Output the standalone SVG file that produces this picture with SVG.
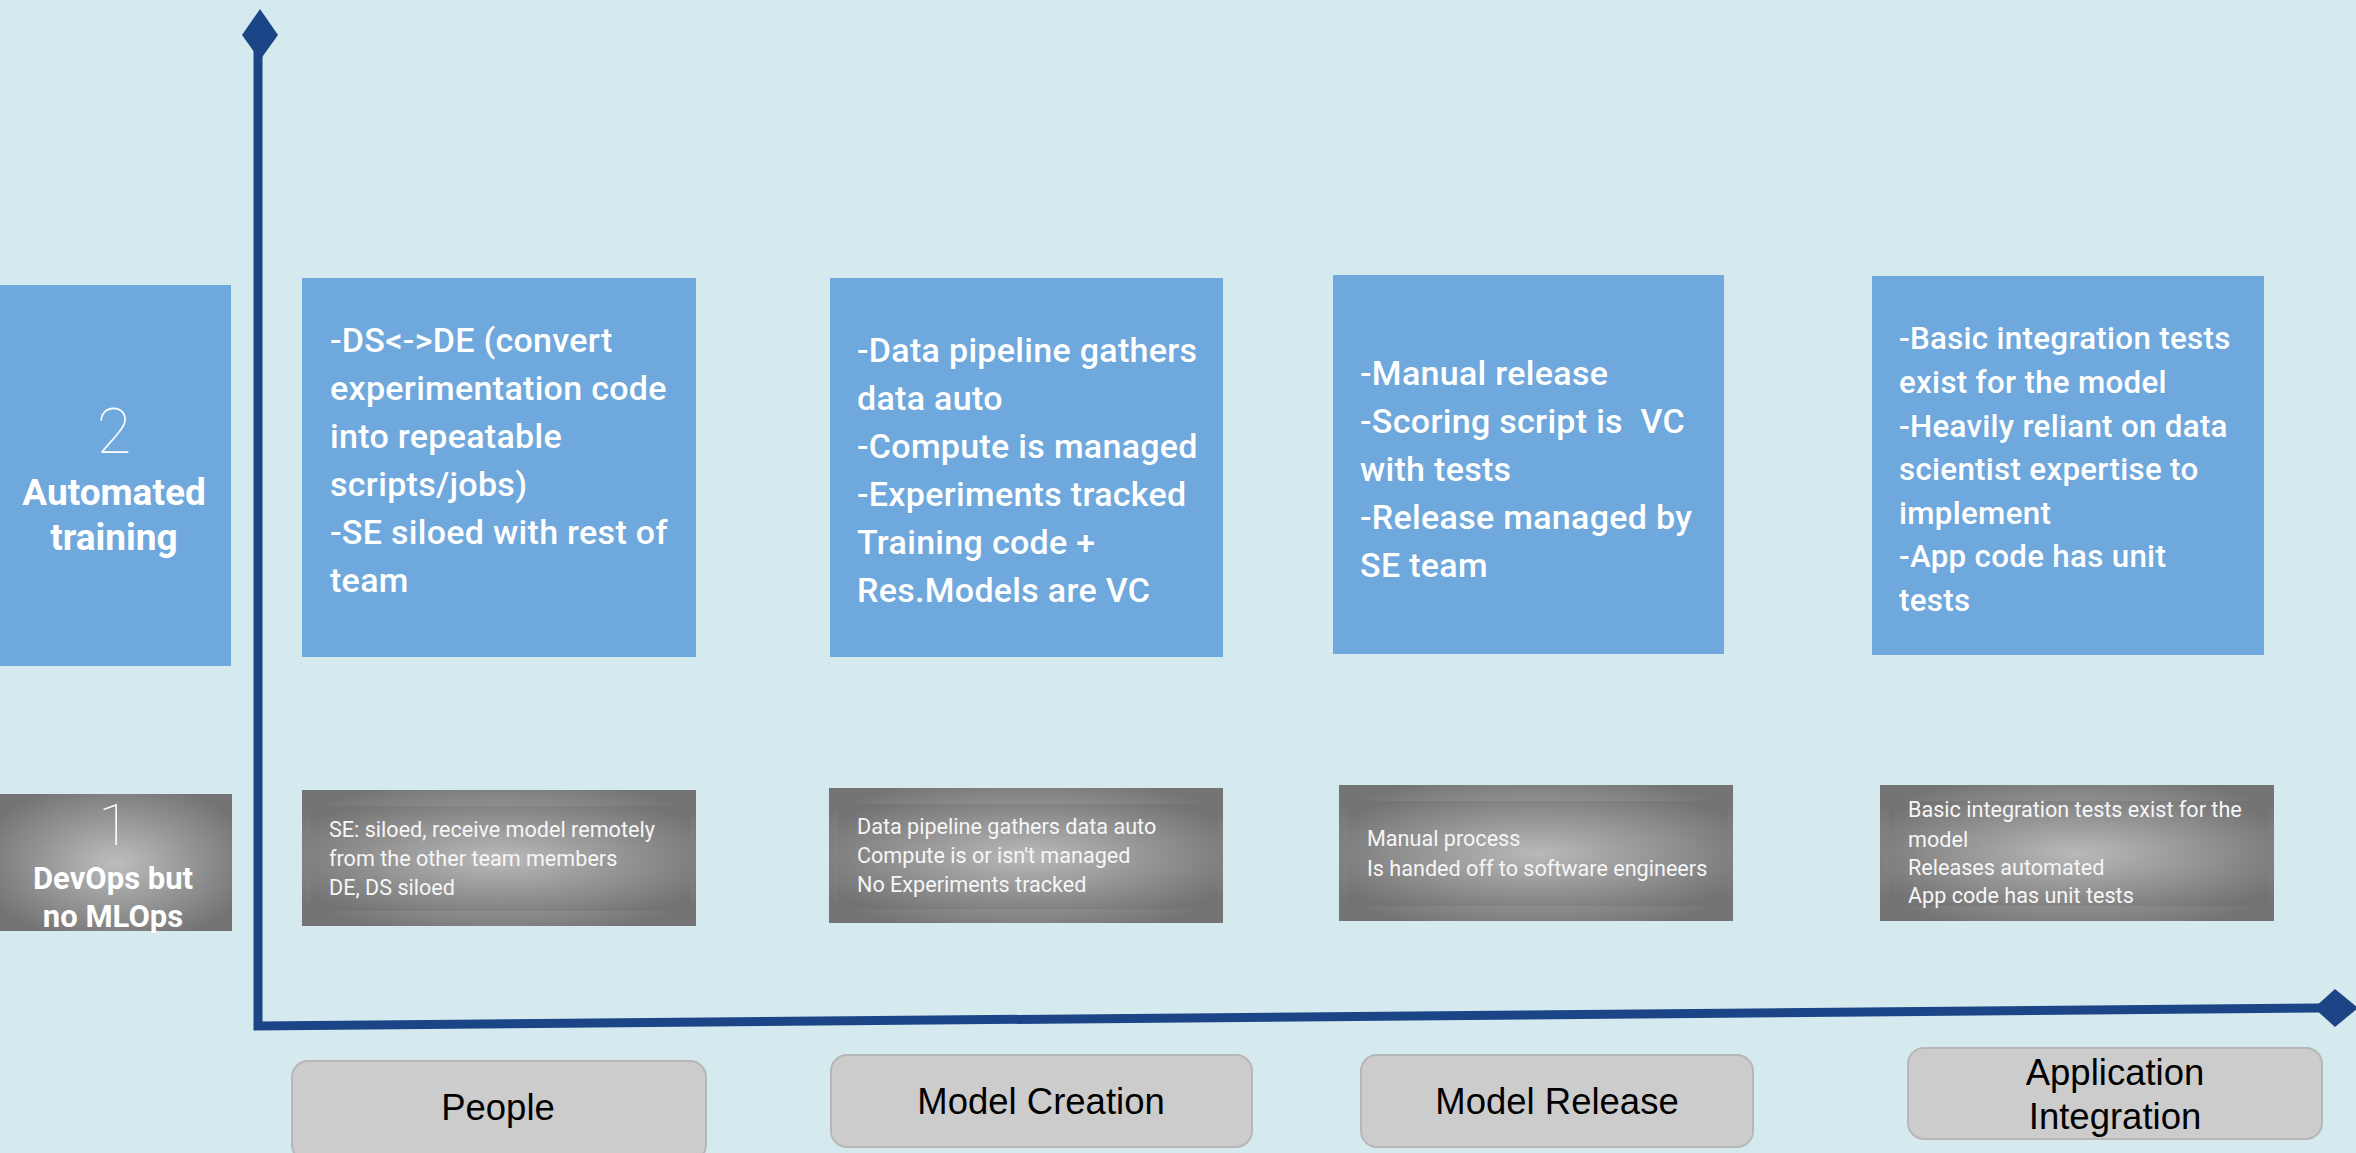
<svg xmlns="http://www.w3.org/2000/svg" width="2356" height="1153" viewBox="0 0 2356 1153">
<defs>
<radialGradient id="gr" cx="0.5" cy="0.5" r="0.6" fx="0.5" fy="0.5">
<stop offset="0" stop-color="#bdbdbd"/>
<stop offset="1" stop-color="#747474"/>
</radialGradient>
<radialGradient id="gr2" cx="0.5" cy="0.5" r="0.62" fx="0.5" fy="0.5">
<stop offset="0" stop-color="#b8b8b8"/>
<stop offset="1" stop-color="#727272"/>
</radialGradient>
<style>
.blue{fill:#6fa8dc}
.bt{font-family:Roboto,"Liberation Sans",sans-serif;font-size:34px;font-weight:500;letter-spacing:0.3px;fill:#ffffff}
.bts{font-size:31.3px}
.gt{font-family:Roboto,"Liberation Sans",sans-serif;font-size:21.6px;fill:#f6f6f6}
.lab{fill:#cccccc;stroke:#b7b7b7;stroke-width:2}
.lt{font-family:"Liberation Sans",Arial,sans-serif;font-size:36.5px;fill:#000000;text-anchor:middle}
.num{font-family:Roboto,"Liberation Sans",sans-serif;font-weight:100;fill:#ffffff;text-anchor:middle}
.lvl{font-family:Roboto,"Liberation Sans",sans-serif;font-weight:700;fill:#ffffff;text-anchor:middle}
.axis{fill:none;stroke:#1c4587;stroke-width:9}
.dia{fill:#1c4587}
</style>
</defs>
<rect width="2356" height="1153" fill="#d5eaee"/>

<g id="connectors">
<polyline class="axis" points="258,40 258,1026 2320,1008"/>
<polygon class="dia" points="260,9 278,35 260,60 242,35"/>
<polygon class="dia" points="2314,1008 2335,989 2358,1008 2335,1027"/>
</g>

<g id="level2">
<rect class="blue" x="0" y="285" width="231" height="381"/>
<text class="num" x="114" y="453" font-size="63">2</text>
<text class="lvl" x="114" y="505" font-size="37">Automated</text>
<text class="lvl" x="114" y="550" font-size="37">training</text>
</g>

<g id="level1">
<rect x="0" y="794" width="232" height="137" fill="url(#gr)"/>
<text class="num" x="114" y="845" font-size="58">1</text>
<text class="lvl" x="113" y="889" font-size="31">DevOps but</text>
<text class="lvl" x="113" y="927" font-size="31">no MLOps</text>
</g>

<g id="people-2">
<rect class="blue" x="302" y="278" width="394" height="379"/>
<text class="bt" x="330" y="352">-DS&lt;-&gt;DE (convert</text>
<text class="bt" x="330" y="400">experimentation code</text>
<text class="bt" x="330" y="448">into repeatable</text>
<text class="bt" x="330" y="496">scripts/jobs)</text>
<text class="bt" x="330" y="544">-SE siloed with rest of</text>
<text class="bt" x="330" y="592">team</text>
</g>

<g id="creation-2">
<rect class="blue" x="830" y="278" width="393" height="379"/>
<text class="bt" x="857" y="362">-Data pipeline gathers</text>
<text class="bt" x="857" y="410">data auto</text>
<text class="bt" x="857" y="458">-Compute is managed</text>
<text class="bt" x="857" y="506">-Experiments tracked</text>
<text class="bt" x="857" y="554">Training code +</text>
<text class="bt" x="857" y="602">Res.Models are VC</text>
</g>

<g id="release-2">
<rect class="blue" x="1333" y="275" width="391" height="379"/>
<text class="bt" x="1360" y="385">-Manual release</text>
<text class="bt" x="1360" y="433" xml:space="preserve">-Scoring script is  VC</text>
<text class="bt" x="1360" y="481">with tests</text>
<text class="bt" x="1360" y="529">-Release managed by</text>
<text class="bt" x="1360" y="577">SE team</text>
</g>

<g id="integration-2">
<rect class="blue" x="1872" y="276" width="392" height="379"/>
<text class="bt bts" x="1899" y="349">-Basic integration tests</text>
<text class="bt bts" x="1899" y="393">exist for the model</text>
<text class="bt bts" x="1899" y="437">-Heavily reliant on data</text>
<text class="bt bts" x="1899" y="480">scientist expertise to</text>
<text class="bt bts" x="1899" y="524">implement</text>
<text class="bt bts" x="1899" y="567">-App code has unit</text>
<text class="bt bts" x="1899" y="611">tests</text>
</g>

<g id="people-1">
<rect x="302" y="790" width="394" height="136" fill="url(#gr)"/>
<rect x="311" y="806" width="379" height="105" fill="url(#gr2)" opacity="0.8"/>
<text class="gt" x="329" y="837">SE: siloed, receive model remotely</text>
<text class="gt" x="329" y="866">from the other team members</text>
<text class="gt" x="329" y="895">DE, DS siloed</text>
</g>

<g id="creation-1">
<rect x="829" y="788" width="394" height="135" fill="url(#gr)"/>
<rect x="838" y="804" width="380" height="105" fill="url(#gr2)" opacity="0.8"/>
<text class="gt" x="857" y="834">Data pipeline gathers data auto</text>
<text class="gt" x="857" y="863">Compute is or isn't managed</text>
<text class="gt" x="857" y="892">No Experiments tracked</text>
</g>

<g id="release-1">
<rect x="1339" y="785" width="394" height="136" fill="url(#gr)"/>
<rect x="1348" y="801" width="380" height="105" fill="url(#gr2)" opacity="0.8"/>
<text class="gt" x="1367" y="846">Manual process</text>
<text class="gt" x="1367" y="876">Is handed off to software engineers</text>
</g>

<g id="integration-1">
<rect x="1880" y="785" width="394" height="136" fill="url(#gr)"/>
<rect x="1889" y="801" width="379" height="105" fill="url(#gr2)" opacity="0.8"/>
<text class="gt" x="1908" y="817">Basic integration tests exist for the</text>
<text class="gt" x="1908" y="847">model</text>
<text class="gt" x="1908" y="875">Releases automated</text>
<text class="gt" x="1908" y="903">App code has unit tests</text>
</g>

<g id="label-people">
<rect class="lab" x="292" y="1061" width="414" height="100" rx="16"/>
<text class="lt" x="498" y="1120">People</text>
</g>
<g id="label-creation">
<rect class="lab" x="831" y="1055" width="421" height="92" rx="16"/>
<text class="lt" x="1041" y="1114">Model Creation</text>
</g>
<g id="label-release">
<rect class="lab" x="1361" y="1055" width="392" height="92" rx="16"/>
<text class="lt" x="1557" y="1114">Model Release</text>
</g>
<g id="label-integration">
<rect class="lab" x="1908" y="1048" width="414" height="91" rx="16"/>
<text class="lt" x="2115" y="1085">Application</text>
<text class="lt" x="2115" y="1129">Integration</text>
</g>
</svg>
